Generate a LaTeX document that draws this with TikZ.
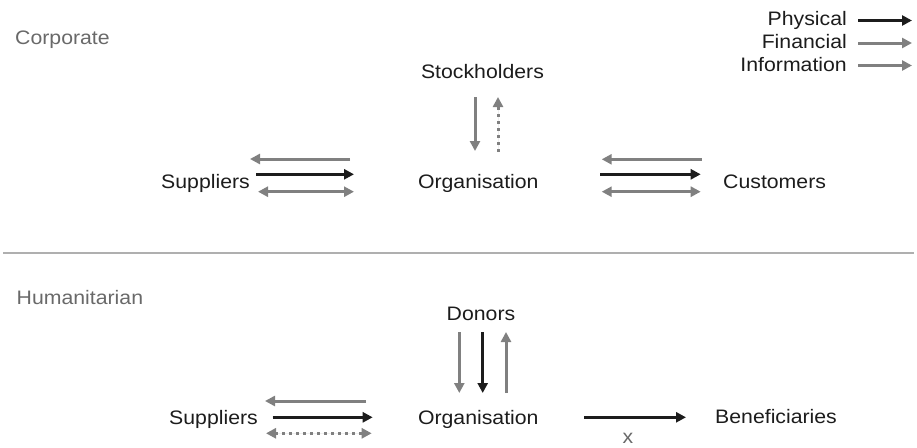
\documentclass[tikz,border=0pt]{standalone}
\usepackage{fontspec}
\setmainfont{Liberation Sans}[FakeStretch=1.09]
\usetikzlibrary{arrows.meta}
\definecolor{ink}{RGB}{28,28,28}
\definecolor{flowgray}{RGB}{128,128,128}
\definecolor{headgray}{RGB}{105,105,105}
\definecolor{rulegray}{RGB}{175,175,175}
\begin{document}
\begin{tikzpicture}[x=1pt,y=-1pt,
  lbl/.style={inner sep=0pt,anchor=base,text=ink,font=\fontsize{19.5}{22}\selectfont},
  sect/.style={inner sep=0pt,anchor=base west,text=headgray,font=\fontsize{19.5}{22}\selectfont},
  tip/.style={-{Triangle[length=10pt,width=10pt]}},
  dtip/.style={{Triangle[length=10pt,width=10pt]}-{Triangle[length=10pt,width=10pt]}},
  physical/.style={tip,draw=ink,fill=ink,line width=3.4pt},
  financial/.style={tip,draw=flowgray,fill=flowgray,line width=3pt},
  information/.style={draw=flowgray,fill=flowgray,line width=3pt},
  dotline/.style={dash pattern=on 2.8pt off 4.2pt}]
\path[use as bounding box] (0,0) rectangle (917,447);

% section headings
\node[sect] (corp) at (15,44) {Corporate};
\node[sect] (hum) at (16.5,304) {Humanitarian};

% legend
\node[lbl,anchor=base east] (lphys) at (847,25) {Physical};
\node[lbl,anchor=base east] (lfin) at (847,48.3) {Financial};
\node[lbl,anchor=base east] (linf) at (847,71.7) {Information};
\coordinate (lp1) at (858,20.5); \coordinate (lp2) at (912,20.5);
\coordinate (lf1) at (858,43);   \coordinate (lf2) at (912,43);
\coordinate (li1) at (858,65.5); \coordinate (li2) at (912,65.5);
\draw[physical] (lp1) -- (lp2);
\draw[financial] (lf1) -- (lf2);
\draw[information,tip] (li1) -- (li2);

% corporate chain
\node[lbl] (stock) at (482.5,78.3) {Stockholders};
\node[lbl] (org1) at (478.3,188.3) {Organisation};
\node[lbl,anchor=base east] (sup1) at (250,188) {Suppliers};
\node[lbl,anchor=base west] (cust) at (723,188) {Customers};

\coordinate (sd1) at (475,97);  \coordinate (sd2) at (475,151);
\coordinate (su1) at (498,152); \coordinate (su2) at (498,97);
\draw[financial] (sd1) -- (sd2);
\draw[information,tip,dotline] (su1) -- (su2);

\coordinate (s1a) at (350,159);   \coordinate (s1b) at (250,159);
\coordinate (s2a) at (256,174.3); \coordinate (s2b) at (354,174.3);
\coordinate (s3a) at (258,191.7); \coordinate (s3b) at (354,191.7);
\draw[financial] (s1a) -- (s1b);
\draw[physical] (s2a) -- (s2b);
\draw[information,dtip] (s3a) -- (s3b);

\coordinate (c1a) at (701.7,159.3); \coordinate (c1b) at (601.7,159.3);
\coordinate (c2a) at (600,174.3);   \coordinate (c2b) at (700.7,174.3);
\coordinate (c3a) at (601.7,191.7); \coordinate (c3b) at (700.7,191.7);
\draw[financial] (c1a) -- (c1b);
\draw[physical] (c2a) -- (c2b);
\draw[information,dtip] (c3a) -- (c3b);

% separator
\coordinate (r1) at (3,253); \coordinate (r2) at (914,253);
\draw[rulegray,line width=2pt] (r1) -- (r2);

% humanitarian chain
\node[lbl] (donors) at (481,320) {Donors};
\node[lbl] (org2) at (478.3,424.5) {Organisation};
\node[lbl,anchor=base east] (sup2) at (258,424) {Suppliers};
\node[lbl,anchor=base west] (benef) at (715,423.5) {Beneficiaries};

\coordinate (d1a) at (459.3,332); \coordinate (d1b) at (459.3,393);
\coordinate (d2a) at (482.7,332); \coordinate (d2b) at (482.7,393);
\coordinate (d3a) at (506,393);   \coordinate (d3b) at (506,332);
\draw[financial] (d1a) -- (d1b);
\draw[physical] (d2a) -- (d2b);
\draw[information,tip] (d3a) -- (d3b);

\coordinate (h1a) at (366,401);   \coordinate (h1b) at (265,401);
\coordinate (h2a) at (272.7,417.3); \coordinate (h2b) at (372.7,417.3);
\coordinate (h3a) at (266,433.3); \coordinate (h3b) at (371.7,433.3);
\draw[financial] (h1a) -- (h1b);
\draw[physical] (h2a) -- (h2b);
\draw[information,dtip,dotline] (h3a) -- (h3b);

\coordinate (b1) at (584,417.3); \coordinate (b2) at (686,417.3);
\draw[physical] (b1) -- (b2);
\node[lbl,text=headgray] (xlab) at (628,443.5) {x};
\end{tikzpicture}
\end{document}
